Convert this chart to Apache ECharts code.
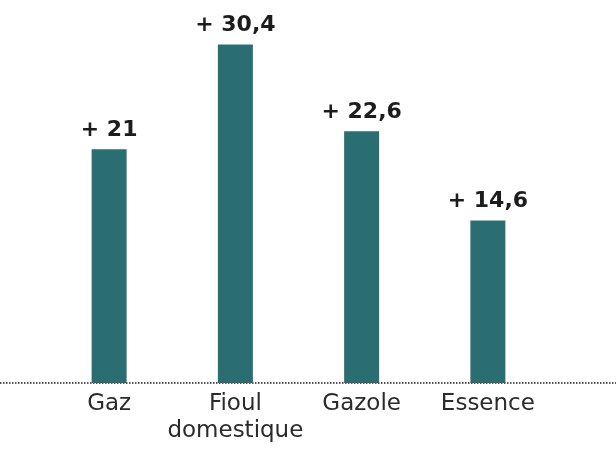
<!DOCTYPE html>
<html lang="fr">
<head>
    <meta charset="UTF-8">
    <title>Hausse des prix de l'énergie</title>
    <script src="https://cdn.jsdelivr.net/npm/echarts@6/dist/echarts.min.js"></script>
    <style>
        html, body { margin: 0; padding: 0; background: #fff; }
    </style>
</head>
<body>

<div id="main" style="width: 616px;height:450px;"></div>

<script type="text/javascript">
    // catégories et valeurs (hausse en %)
    var categories = ['Gaz', 'Fioul\ndomestique', 'Gazole', 'Essence'];
    var values = [21, 30.4, 22.6, 14.6];

    var barColor = '#2a6e71';

    var myChart = echarts.init(document.getElementById('main'));

    var option = {
        animation: false,
        grid: {
            left: 46,
            right: 65,
            top: 40,
            bottom: 67
        },
        xAxis: {
            type: 'category',
            data: categories,
            axisLine: { show: false },
            axisTick: { show: false },
            axisLabel: {
                interval: 0,
                margin: 8,
                color: '#2b2b2b',
                fontFamily: 'DejaVu Sans',
                fontSize: 23,
                lineHeight: 27
            }
        },
        yAxis: {
            type: 'value',
            min: 0,
            max: 30.8,
            show: false,
            splitLine: { show: false }
        },
        series: [
            {
                type: 'bar',
                data: values,
                barWidth: 35,
                itemStyle: { color: barColor },
                label: {
                    show: true,
                    position: 'top',
                    distance: 8,
                    color: '#1c1c1c',
                    fontFamily: 'DejaVu Sans',
                    fontWeight: 'bold',
                    fontSize: 22,
                    formatter: function (p) {
                        return '+ ' + String(p.value).replace('.', ',');
                    }
                }
            }
        ]
    };

    myChart.setOption(option);

    // ligne pointillée de base sur toute la largeur
    var y0 = myChart.convertToPixel({ yAxisIndex: 0 }, 0);
    myChart.setOption({
        graphic: [{
            type: 'line',
            shape: { x1: 0, y1: y0, x2: 616, y2: y0 },
            style: { stroke: '#555', lineWidth: 2, lineDash: [1.5, 1.5] },
            z: 10
        }]
    });
</script>
</body>
</html>
